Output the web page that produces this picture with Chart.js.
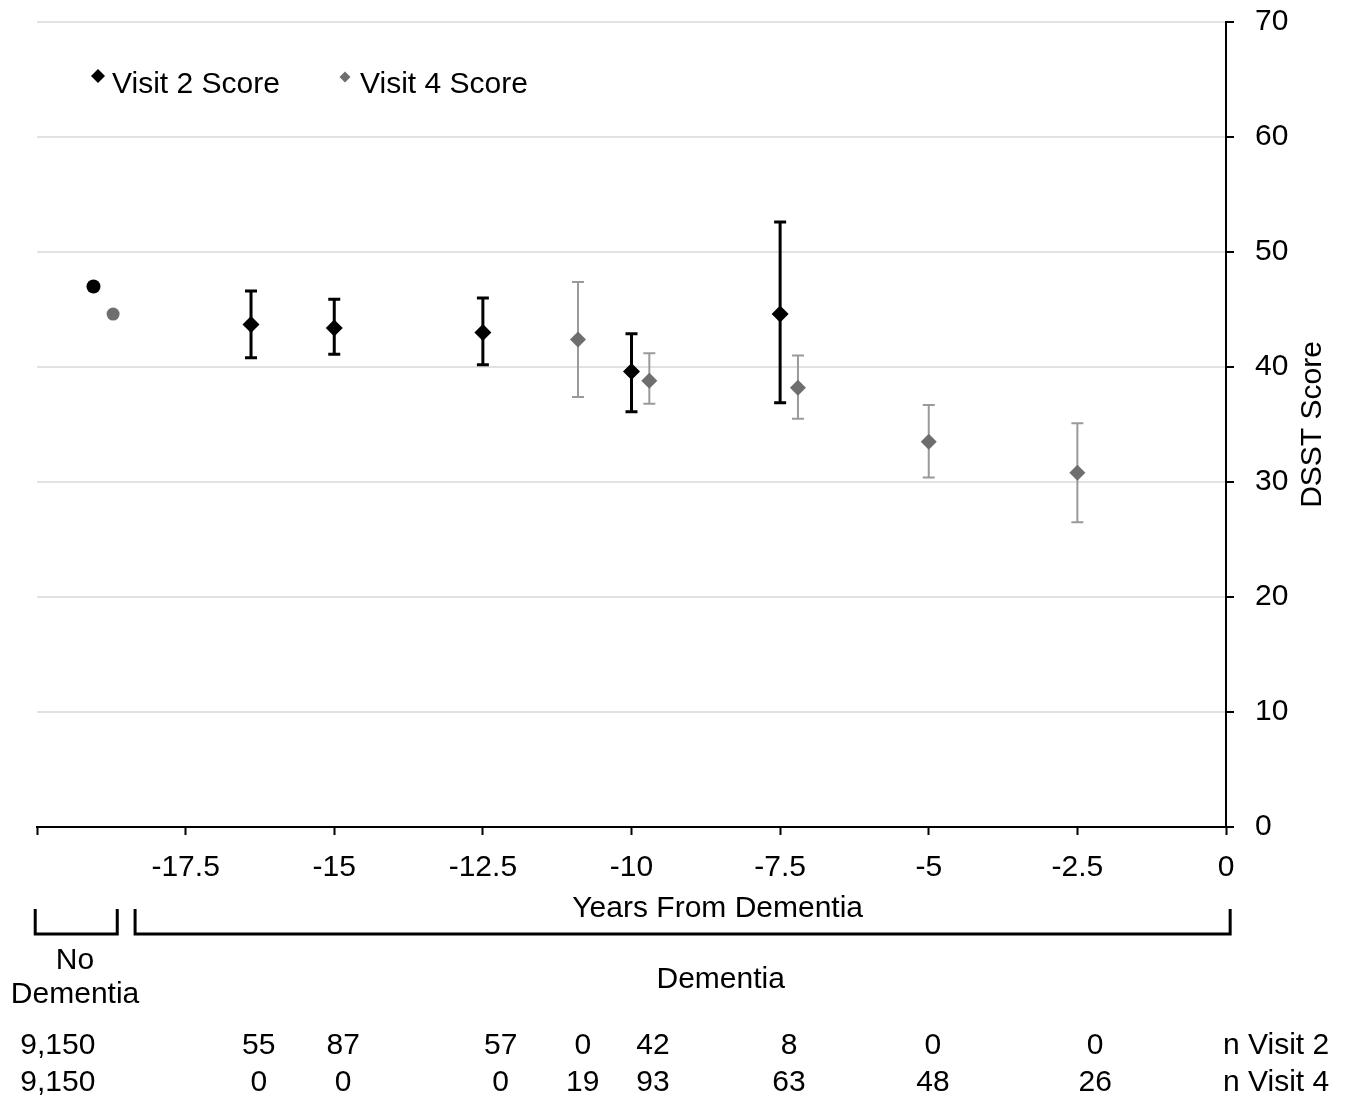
<!DOCTYPE html>
<html>
<head>
<meta charset="utf-8">
<script src="https://cdn.jsdelivr.net/npm/chart.js@4.4.0/dist/chart.umd.min.js"></script>
<style>
  html, body { margin: 0; padding: 0; background: #fff; }
  #wrap { width: 1347px; height: 1102px; }
</style>
</head>
<body>
<div id="wrap"><canvas id="chart" width="1347" height="1102"></canvas></div>
<script>
// Visit 2 (black) - first point is the no dementia group
const visit2Years = [-19.05, -16.4, -15, -12.5, -10, -7.5];
const visit2Score = [47.0, 43.7, 43.4, 43.0, 39.6, 44.6];
const visit2Low = [null, 40.8, 41.1, 40.2, 36.1, 36.9];
const visit2High = [null, 46.6, 45.9, 46.0, 42.9, 52.6];

// Visit 4 (grey)
const visit4Years = [-18.72, -10.9, -9.7, -7.2, -5, -2.5];
const visit4Score = [44.6, 42.4, 38.8, 38.2, 33.5, 30.8];
const visit4Low = [null, 37.4, 36.8, 35.5, 30.4, 26.5];
const visit4High = [null, 47.4, 41.2, 41.0, 36.7, 35.1];

// counts under the axis
const nColumnYears = [-19.65, -16.27, -14.85, -12.2, -10.82, -9.64, -7.35, -4.93, -2.2];
const nVisit2 = ['9,150', '55', '87', '57', '0', '42', '8', '0', '0'];
const nVisit4 = ['9,150', '0', '0', '0', '19', '93', '63', '48', '26'];

const groupLabels = [['No', 'Dementia'], ['Dementia']];
const groupStart = [-20.03, -18.35];
const groupEnd = [-18.65, 0.07];

const FONT = '"Liberation Sans", Arial, Helvetica, sans-serif';

function toPoints(xs, ys) {
    return xs.map((x, i) => ({ x: x, y: ys[i] }));
}

function diamond(ctx, x, y, r) {
    ctx.beginPath();
    ctx.moveTo(x, y - r);
    ctx.lineTo(x + r, y);
    ctx.lineTo(x, y + r);
    ctx.lineTo(x - r, y);
    ctx.closePath();
    ctx.fill();
}

const errorBars = {
    id: 'errorBars',
    beforeDatasetsDraw(chart) {
        const ctx = chart.ctx;
        const yScale = chart.scales.y;
        chart.data.datasets.forEach((ds, i) => {
            const meta = chart.getDatasetMeta(i);
            ds.errLow.forEach((lo, j) => {
                if (lo === null) return;
                const px = meta.data[j].x;
                const top = yScale.getPixelForValue(ds.errHigh[j]);
                const bot = yScale.getPixelForValue(lo);
                ctx.save();
                ctx.strokeStyle = ds.errColor;
                ctx.lineWidth = ds.errWidth;
                ctx.beginPath();
                ctx.moveTo(px, top);
                ctx.lineTo(px, bot);
                ctx.moveTo(px - 6, top);
                ctx.lineTo(px + 6, top);
                ctx.moveTo(px - 6, bot);
                ctx.lineTo(px + 6, bot);
                ctx.stroke();
                ctx.restore();
            });
        });
    }
};

const annotations = {
    id: 'annotations',
    afterDraw(chart) {
        const ctx = chart.ctx;
        const xScale = chart.scales.x;
        const area = chart.chartArea;
        ctx.save();
        ctx.font = '30px ' + FONT;
        ctx.fillStyle = '#000';

        // legend
        const ds = chart.data.datasets;
        ctx.fillStyle = ds[0].backgroundColor;
        diamond(ctx, 98, 76, 7);
        ctx.fillStyle = ds[1].backgroundColor;
        diamond(ctx, 345, 77, 5.5);
        ctx.fillStyle = '#000';
        ctx.textAlign = 'left';
        ctx.textBaseline = 'alphabetic';
        ctx.fillText(ds[0].label, 112, 93);
        ctx.fillText(ds[1].label, 360, 93);

        // axis titles
        ctx.textAlign = 'center';
        ctx.fillText('Years From Dementia', xScale.getPixelForValue(-8.55), 917);
        ctx.save();
        ctx.translate(1313, (area.top + area.bottom) / 2);
        ctx.rotate(-Math.PI / 2);
        ctx.textBaseline = 'middle';
        ctx.fillText('DSST Score', 0, 0);
        ctx.restore();

        // brackets
        ctx.strokeStyle = '#000';
        ctx.lineWidth = 3;
        groupStart.forEach((s, i) => {
            const x1 = xScale.getPixelForValue(s);
            const x2 = xScale.getPixelForValue(groupEnd[i]);
            ctx.beginPath();
            ctx.moveTo(x1, 909);
            ctx.lineTo(x1, 934);
            ctx.lineTo(x2, 934);
            ctx.lineTo(x2, 909);
            ctx.stroke();
        });

        ctx.textBaseline = 'middle';
        ctx.fillText(groupLabels[0][0], xScale.getPixelForValue(-19.36), 961);
        ctx.fillText(groupLabels[0][1], xScale.getPixelForValue(-19.36), 995);
        ctx.fillText(groupLabels[1][0], xScale.getPixelForValue(-8.5), 980);

        // n rows
        nColumnYears.forEach((yr, i) => {
            const px = xScale.getPixelForValue(yr);
            ctx.fillText(nVisit2[i], px, 1046);
            ctx.fillText(nVisit4[i], px, 1083);
        });
        ctx.textAlign = 'left';
        ctx.fillText('n Visit 2', 1223, 1046);
        ctx.fillText('n Visit 4', 1223, 1083);
        ctx.restore();
    }
};

new Chart(document.getElementById('chart'), {
    type: 'scatter',
    data: {
        datasets: [
            {
                label: 'Visit 2 Score',
                data: toPoints(visit2Years, visit2Score),
                backgroundColor: '#000000',
                borderColor: '#000000',
                pointStyle: ['circle', 'rectRot', 'rectRot', 'rectRot', 'rectRot', 'rectRot'],
                pointRadius: [7, 8.5, 8.5, 8.5, 8.5, 8.5],
                borderWidth: 0,
                errLow: visit2Low,
                errHigh: visit2High,
                errColor: '#000000',
                errWidth: 3
            },
            {
                label: 'Visit 4 Score',
                data: toPoints(visit4Years, visit4Score),
                backgroundColor: '#6e6e6e',
                borderColor: '#6e6e6e',
                pointStyle: ['circle', 'rectRot', 'rectRot', 'rectRot', 'rectRot', 'rectRot'],
                pointRadius: [6.5, 8, 8, 8, 8, 8],
                borderWidth: 0,
                errLow: visit4Low,
                errHigh: visit4High,
                errColor: '#9a9a9a',
                errWidth: 2
            }
        ]
    },
    options: {
        responsive: false,
        animation: false,
        devicePixelRatio: 1,
        layout: { padding: { left: 37, top: 22, right: 0, bottom: 0 } },
        plugins: {
            legend: { display: false },
            tooltip: { enabled: false }
        },
        scales: {
            x: {
                type: 'linear',
                position: 'bottom',
                min: -20,
                max: 0,
                ticks: {
                    stepSize: 2.5,
                    autoSkip: false,
                    maxRotation: 0,
                    padding: 15,
                    color: '#000',
                    font: { size: 30, family: FONT },
                    callback: v => (v === -20 ? '' : String(v))
                },
                grid: {
                    drawOnChartArea: false,
                    drawTicks: true,
                    tickLength: 8,
                    tickColor: '#000',
                    tickWidth: 2
                },
                border: { color: '#000', width: 2 },
                afterFit(scale) { scale.height = 275; }
            },
            y: {
                position: 'right',
                min: 0,
                max: 70,
                ticks: {
                    stepSize: 10,
                    padding: 21,
                    color: '#000',
                    font: { size: 30, family: FONT }
                },
                grid: {
                    color: '#e2e2e2',
                    lineWidth: 2,
                    tickColor: '#000',
                    tickLength: 8,
                    tickWidth: 2
                },
                border: { color: '#000', width: 2 },
                afterFit(scale) {
                    scale.width = 121;
                    scale.paddingTop = 0;
                    scale.paddingBottom = 0;
                }
            }
        }
    },
    plugins: [errorBars, annotations]
});
</script>
</body>
</html>
